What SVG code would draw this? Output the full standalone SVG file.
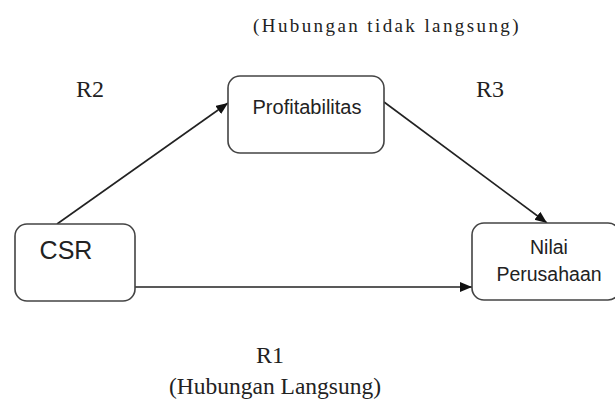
<svg xmlns="http://www.w3.org/2000/svg" width="615" height="402" viewBox="0 0 615 402">
<style>
.box{fill:#fff;stroke:#444;stroke-width:1.6}
.sans{font-family:"Liberation Sans",Arial,sans-serif;fill:#222}
.serif{font-family:"Liberation Serif","Times New Roman",serif;fill:#222}
.edge{stroke:#222;stroke-width:1.6;fill:none}
</style>
<defs>
<marker id="arrow" markerUnits="userSpaceOnUse" markerWidth="13" markerHeight="11" refX="12" refY="5" orient="auto">
<path d="M0,0 L12,5 L0,10 z" fill="#111"/>
</marker>
</defs>
<rect width="615" height="402" fill="#fff"/>
<g id="connectors">
<line class="edge" x1="57" y1="224" x2="228" y2="103" marker-end="url(#arrow)"/>
<line class="edge" x1="384" y1="102" x2="547" y2="223" marker-end="url(#arrow)"/>
<line class="edge" x1="135" y1="287" x2="472" y2="287" marker-end="url(#arrow)"/>
</g>
<g id="node-profitabilitas">
<rect class="box" x="228" y="76" width="156" height="77" rx="12"/>
<text class="sans" x="307" y="114" font-size="20" text-anchor="middle">Profitabilitas</text>
</g>
<g id="node-csr">
<rect class="box" x="15" y="224" width="120" height="77" rx="12"/>
<text class="sans" x="66" y="259" font-size="25" text-anchor="middle">CSR</text>
</g>
<g id="node-nilai">
<rect class="box" x="472" y="223" width="148" height="77" rx="12"/>
<text class="sans" x="549" y="254" font-size="19.5" text-anchor="middle">Nilai</text>
<text class="sans" x="549" y="281" font-size="19.5" text-anchor="middle">Perusahaan</text>
</g>
<g id="labels">
<text class="serif" x="387" y="32" font-size="19" letter-spacing="2.4" text-anchor="middle">(Hubungan tidak langsung)</text>
<text class="serif" x="90" y="97" font-size="24" text-anchor="middle">R2</text>
<text class="serif" x="490" y="97" font-size="24" text-anchor="middle">R3</text>
<text class="serif" x="270" y="363" font-size="24" text-anchor="middle">R1</text>
<text class="serif" x="275" y="394" font-size="23.5" text-anchor="middle">(Hubungan Langsung)</text>
</g>
</svg>
